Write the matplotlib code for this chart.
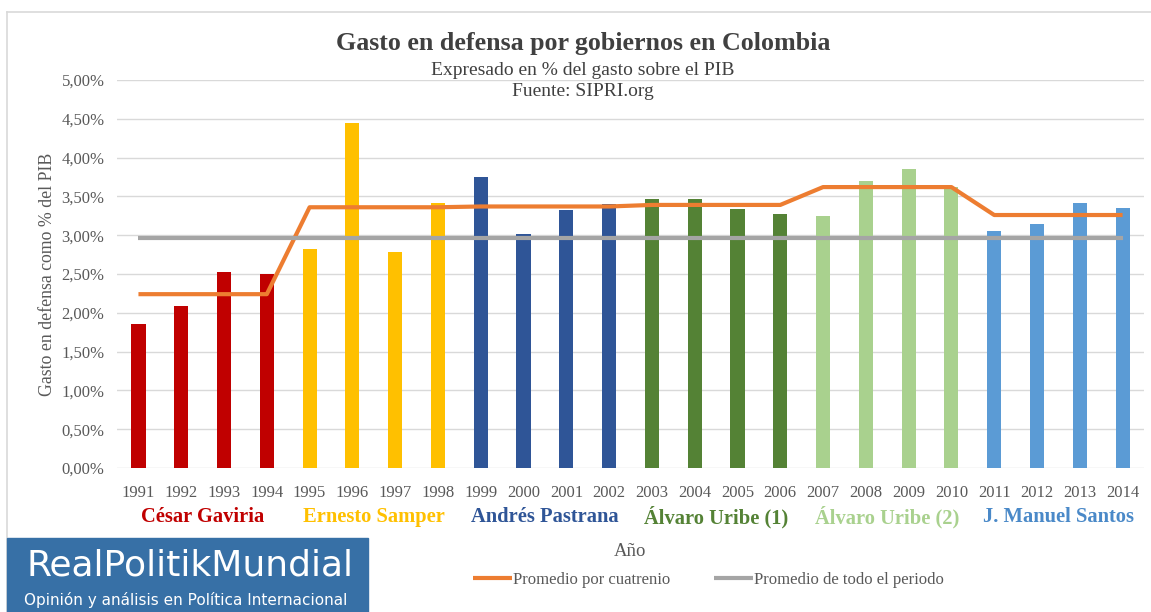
import numpy as np
import matplotlib
matplotlib.use("Agg")
import matplotlib.pyplot as plt
from matplotlib.patches import Rectangle
from matplotlib.ticker import FuncFormatter

# datos (SIPRI, % del PIB)
years = [1991, 1992, 1993, 1994, 1995, 1996, 1997, 1998, 1999, 2000, 2001, 2002,
         2003, 2004, 2005, 2006, 2007, 2008, 2009, 2010, 2011, 2012, 2013, 2014]
gasto = [1.85, 2.09, 2.52, 2.50, 2.82, 4.44, 2.78, 3.42, 3.75, 3.02, 3.32, 3.40,
         3.47, 3.47, 3.34, 3.27, 3.25, 3.70, 3.85, 3.62, 3.05, 3.14, 3.42, 3.35]
promedio_cuatrienio = [2.24, 2.24, 2.24, 2.24, 3.36, 3.36, 3.36, 3.36,
                       3.37, 3.37, 3.37, 3.37, 3.39, 3.39, 3.39, 3.39,
                       3.62, 3.62, 3.62, 3.62, 3.26, 3.26, 3.26, 3.26]
promedio_total = 2.96
presidentes = ["César Gaviria", "Ernesto Samper", "Andrés Pastrana",
               "Álvaro Uribe (1)", "Álvaro Uribe (2)", "J. Manuel Santos"]
colores = ["#C00000", "#FFC000", "#2F5597", "#548235", "#A9D18E", "#5B9BD5"]
colores_texto = ["#C00000", "#FFC000", "#2F5597", "#548235", "#A9D18E", "#4A89C8"]

SERIF = "Liberation Serif"
GRIS = "#595959"

fig = plt.figure(figsize=(11.51, 6.12), dpi=100)
ax = fig.add_axes([0.1017, 0.2353, 0.8922, 0.634])

x = np.arange(len(years))
bar_colors = [colores[i // 4] for i in range(len(years))]
ax.bar(x, [g / 100 for g in gasto], width=0.33, color=bar_colors, zorder=2)

l1, = ax.plot(x, [p / 100 for p in promedio_cuatrienio], color="#ED7D31", lw=3,
              solid_capstyle="butt", zorder=3, label="Promedio por cuatrenio")
l2, = ax.plot([x[0], x[-1]], [promedio_total / 100] * 2, color="#A5A5A5", lw=3,
              solid_capstyle="butt", zorder=3, label="Promedio de todo el periodo")

ax.set_xlim(-0.5, len(years) - 0.5)
ax.set_ylim(0, 0.05)
ax.set_yticks(np.arange(0, 0.0501, 0.005))
ax.yaxis.set_major_formatter(FuncFormatter(lambda v, p: f"{v * 100:.2f}%".replace(".", ",")))
ax.set_xticks(x)
ax.set_xticklabels([str(y) for y in years])
ax.tick_params(length=0, labelsize=12, labelcolor=GRIS)
ax.tick_params(axis="y", pad=9)
ax.tick_params(axis="x", pad=12)
for lab in ax.get_xticklabels() + ax.get_yticklabels():
    lab.set_fontfamily(SERIF)
ax.grid(axis="y", color="#D9D9D9", lw=1, zorder=0)
for s in ax.spines.values():
    s.set_visible(False)

ax.set_ylabel("Gasto en defensa como % del PIB", fontfamily=SERIF, fontsize=12.8,
              color=GRIS, labelpad=4)

# titulos
fig.text(0.5065, 0.929, "Gasto en defensa por gobiernos en Colombia", ha="center",
         va="center", fontfamily=SERIF, fontweight="bold", fontsize=18.7, color="#404040")
fig.text(0.5065, 0.885, "Expresado en % del gasto sobre el PIB", ha="center", va="center",
         fontfamily=SERIF, fontsize=14, color="#404040")
fig.text(0.5065, 0.851, "Fuente: SIPRI.org", ha="center", va="center",
         fontfamily=SERIF, fontsize=14, color="#404040")

# nombres de presidentes bajo cada cuatrienio
trans = matplotlib.transforms.blended_transform_factory(ax.transData, fig.transFigure)
for i, (nombre, c) in enumerate(zip(presidentes, colores_texto)):
    ax.text(4 * i + 1.5, 1 - 517 / 612, nombre, transform=trans, ha="center", va="center",
            fontfamily=SERIF, fontweight="bold", fontsize=14.8, color=c)

fig.text(0.5474, 1 - 552 / 612, "Año", ha="center", va="center", fontfamily=SERIF,
         fontsize=13.5, color=GRIS)

leg = fig.legend(handles=[l1, l2], loc="center", bbox_to_anchor=(0.6155, 1 - 580 / 612),
                 ncol=2, frameon=False, handlelength=2.35, handletextpad=0.05,
                 columnspacing=2.6, prop={"family": SERIF, "size": 12})
for t in leg.get_texts():
    t.set_color(GRIS)

# marco del area del grafico
fig.add_artist(plt.Line2D([7 / 1151, 1], [1 - 12 / 612] * 2, color="#D9D9D9", lw=1.2))
fig.add_artist(plt.Line2D([7 / 1151] * 2, [0, 1 - 12 / 612], color="#D9D9D9", lw=1.2))

# logo
fig.add_artist(Rectangle((7 / 1151, 0), 361 / 1151, 74 / 612, transform=fig.transFigure,
                         color="#3770A6", zorder=5))
fig.text(190 / 1151, 1 - 566 / 612, "RealPolitikMundial", ha="center", va="center",
         fontfamily="DejaVu Sans", fontsize=26, color="white", zorder=6)
fig.text(186 / 1151, 1 - 600 / 612, "Opinión y análisis en Política Internacional",
         ha="center", va="center", fontfamily="DejaVu Sans", fontsize=11, color="white",
         zorder=6)

fig.savefig("out.png", dpi=100)
